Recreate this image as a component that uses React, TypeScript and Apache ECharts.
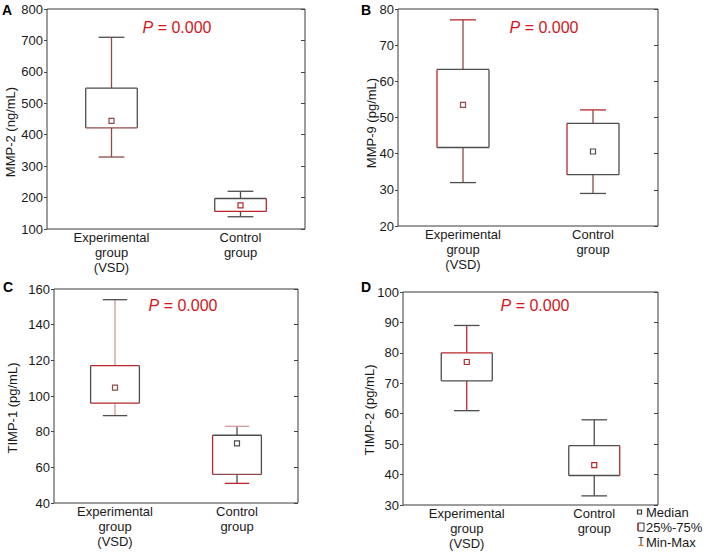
import React, { useEffect, useRef } from "react";
import * as echarts from "echarts";

// Group labels shared by all four panels
const CATEGORIES = ["Experimental\ngroup\n(VSD)", "Control\ngroup"];

// Box statistics per group: [min, q25, median, q75, max]
const MMP2_EXP = [329, 422, 444, 548, 710];
const MMP2_CTRL = [139, 156, 175, 197, 220];
const MMP9_EXP = [32, 41.7, 53.5, 63.3, 77];
const MMP9_CTRL = [29, 34.2, 40.6, 48.4, 52.1];
const TIMP1_EXP = [89, 96, 104.7, 117, 154];
const TIMP1_CTRL = [51, 56, 73.4, 78, 83];
const TIMP2_EXP = [61, 70.8, 77, 80, 89];
const TIMP2_CTRL = [33, 39.7, 43.1, 49.5, 58];

// Value axis ranges: [min, max, interval]
const MMP2_RANGE = [100, 800, 100];
const MMP9_RANGE = [20, 80, 10];
const TIMP1_RANGE = [40, 160, 20];
const TIMP2_RANGE = [30, 100, 10];

const PANEL_LETTERS = ["A", "B", "C", "D"];
const AXIS_NAMES = ["MMP-2 (ng/mL)", "MMP-9 (pg/mL)", "TIMP-1 (pg/mL)", "TIMP-2 (pg/mL)"];
const P_LABEL = "0.000";
const LEGEND_ITEMS = ["Median", "25%-75%", "Min-Max"];

const FONT = "'Liberation Sans', Arial, Helvetica, sans-serif";
const TEXT = "#1a1a1a";
const RED = "#d2161c";

// Stroke colours for the parts of each box
const G = "#4d4d4d";
const R = "#b8262b";
const M = "#8f4a4a";
const P = "#d49a9a";
type EdgeStyle = {
  capTop: string; whiskUp: string; boxTop: string; boxRight: string;
  boxBottom: string; boxLeft: string; whiskDown: string; capBottom: string; median: string;
};
const edge = (capTop: string, whiskUp: string, boxTop: string, boxRight: string, boxBottom: string,
  boxLeft: string, whiskDown: string, capBottom: string, median: string): EdgeStyle =>
  ({ capTop, whiskUp, boxTop, boxRight, boxBottom, boxLeft, whiskDown, capBottom, median });

const EDGE_STYLES: EdgeStyle[][] = [
  [edge(G, M, G, G, M, G, M, M, M), edge(G, G, G, R, R, G, G, G, R)],
  [edge(R, M, G, G, G, R, M, G, M), edge(R, M, G, G, G, R, M, G, G)],
  [edge(G, P, R, G, R, G, P, G, M), edge(P, G, G, G, M, R, G, R, G)],
  [edge(G, R, R, G, G, G, R, G, R), edge(G, G, G, R, G, G, G, G, R)],
];

// Plot areas of the four panels
const GRIDS = [
  { left: 47, top: 9, width: 258, height: 220 },
  { left: 398, top: 9, width: 260, height: 217 },
  { left: 54, top: 289, width: 244, height: 214 },
  { left: 403, top: 292, width: 255, height: 213 },
];

const PANELS = [
  { exp: MMP2_EXP, ctrl: MMP2_CTRL, range: MMP2_RANGE },
  { exp: MMP9_EXP, ctrl: MMP9_CTRL, range: MMP9_RANGE },
  { exp: TIMP1_EXP, ctrl: TIMP1_CTRL, range: TIMP1_RANGE },
  { exp: TIMP2_EXP, ctrl: TIMP2_CTRL, range: TIMP2_RANGE },
];

// Positions of panel letters, P-value labels and rotated axis names
const LETTER_POS = [[2, 10], [361, 10], [3, 287], [361, 287]];
const P_POS = [[177, 27], [544, 27], [183, 305], [535, 305]];
const NAME_POS = [[10, 132], [371, 123], [12, 408], [369, 410]];

function makeRenderItem(panel: number) {
  return (params: any, api: any) => {
    const cat = api.value(0);
    const v = [1, 2, 3, 4, 5].map((i) => api.value(i));
    const ys = v.map((val) => api.coord([cat, val])[1]);
    const xc = api.coord([cat, v[0]])[0];
    const band = api.size([1, 0])[0];
    const bw = band * 0.4;
    const cw = bw * 0.5;
    const [yMin, yQ1, yMed, yQ3, yMax] = ys;
    const s = EDGE_STYLES[panel][params.dataIndex];
    const lw = 1.3;
    const ln = (x1: number, y1: number, x2: number, y2: number, stroke: string) => ({
      type: "line",
      shape: { x1, y1, x2, y2 },
      style: { stroke, lineWidth: lw },
    });
    const xl = xc - bw / 2;
    const xr = xc + bw / 2;
    return {
      type: "group",
      children: [
        ln(xc, yQ3, xc, yMax, s.whiskUp),
        ln(xc - cw / 2, yMax, xc + cw / 2, yMax, s.capTop),
        ln(xc, yQ1, xc, yMin, s.whiskDown),
        ln(xc - cw / 2, yMin, xc + cw / 2, yMin, s.capBottom),
        {
          type: "rect",
          shape: { x: xl, y: yQ3, width: bw, height: yQ1 - yQ3 },
          style: { fill: "#ffffff", stroke: "none" },
        },
        ln(xl, yQ3, xr, yQ3, s.boxTop),
        ln(xr, yQ3, xr, yQ1, s.boxRight),
        ln(xl, yQ1, xr, yQ1, s.boxBottom),
        ln(xl, yQ3, xl, yQ1, s.boxLeft),
        {
          type: "rect",
          shape: { x: xc - 2.5, y: yMed - 2.5, width: 5, height: 5 },
          style: { fill: "#ffffff", stroke: s.median, lineWidth: 1.2 },
        },
      ],
    };
  };
}

export default function App() {
  const ref = useRef<HTMLDivElement>(null);

  useEffect(() => {
    document.body.style.margin = "0";
    if (!ref.current) return;
    const chart = echarts.init(ref.current, undefined, { renderer: "svg" });

    const xAxis = GRIDS.map((_, i) => ({
      type: "category",
      gridIndex: i,
      data: CATEGORIES,
      boundaryGap: true,
      axisLine: { show: false },
      axisTick: { show: false },
      axisLabel: {
        color: TEXT,
        fontFamily: FONT,
        fontSize: 13,
        lineHeight: 15,
        margin: 1,
        interval: 0,
      },
      splitLine: { show: false },
    }));

    const yAxis: any[] = [];
    PANELS.forEach((p, i) => {
      const [min, max, interval] = p.range;
      yAxis.push({
        type: "value",
        gridIndex: i,
        position: "left",
        min,
        max,
        interval,
        axisLine: { show: false },
        axisTick: { show: true, length: 3, lineStyle: { color: "#444" } },
        axisLabel: { color: TEXT, fontFamily: FONT, fontSize: 13, margin: 4 },
        splitLine: { show: false },
      });
      yAxis.push({
        type: "value",
        gridIndex: i,
        position: "right",
        min,
        max,
        interval,
        axisLine: { show: false },
        axisTick: { show: true, inside: true, length: 4, lineStyle: { color: "#444" } },
        axisLabel: { show: false },
        splitLine: { show: false },
      });
    });

    const series = PANELS.map((p, i) => ({
      type: "custom",
      xAxisIndex: i,
      yAxisIndex: i * 2,
      clip: false,
      renderItem: makeRenderItem(i),
      encode: { x: 0, y: [1, 2, 3, 4, 5] },
      data: [
        [0, ...p.exp],
        [1, ...p.ctrl],
      ],
    }));

    const graphic: any[] = [];
    PANEL_LETTERS.forEach((letter, i) => {
      graphic.push({
        type: "text",
        x: LETTER_POS[i][0],
        y: LETTER_POS[i][1],
        style: {
          text: letter,
          fontFamily: FONT,
          fontSize: 14,
          fontWeight: "bold",
          fill: "#000",
          align: "left",
          verticalAlign: "middle",
        },
      });
      graphic.push({
        type: "text",
        x: P_POS[i][0],
        y: P_POS[i][1],
        style: {
          text: "{i|P} = " + P_LABEL,
          fontFamily: FONT,
          fontSize: 16,
          fill: RED,
          align: "center",
          verticalAlign: "middle",
          rich: {
            i: { fontStyle: "italic", fontFamily: FONT, fontSize: 16, fill: RED },
          },
        },
      });
      graphic.push({
        type: "text",
        x: NAME_POS[i][0],
        y: NAME_POS[i][1],
        rotation: Math.PI / 2,
        style: {
          text: AXIS_NAMES[i],
          fontFamily: FONT,
          fontSize: 13,
          fill: TEXT,
          align: "center",
          verticalAlign: "middle",
        },
      });
    });

    // Legend beneath panel D
    const legendX = 646;
    const legendY = [512, 527, 542];
    LEGEND_ITEMS.forEach((label, i) => {
      graphic.push({
        type: "text",
        x: legendX,
        y: legendY[i],
        style: {
          text: label,
          fontFamily: FONT,
          fontSize: 13,
          fill: TEXT,
          align: "left",
          verticalAlign: "middle",
        },
      });
    });
    graphic.push({
      type: "rect",
      shape: { x: 637.5, y: 510, width: 4, height: 4 },
      style: { fill: "#fff", stroke: "#333", lineWidth: 1.2 },
    });
    graphic.push({
      type: "rect",
      shape: { x: 638, y: 523, width: 6, height: 8 },
      style: { fill: "#fff", stroke: "#333", lineWidth: 1 },
    });
    graphic.push({
      type: "line",
      shape: { x1: 638, y1: 523, x2: 638, y2: 531 },
      style: { stroke: R, lineWidth: 1.2 },
    });
    graphic.push({
      type: "line",
      shape: { x1: 638.5, y1: 537.5, x2: 643.5, y2: 537.5 },
      style: { stroke: "#333", lineWidth: 1 },
    });
    graphic.push({
      type: "line",
      shape: { x1: 641, y1: 537.5, x2: 641, y2: 545.5 },
      style: { stroke: "#333", lineWidth: 1 },
    });
    graphic.push({
      type: "line",
      shape: { x1: 638.5, y1: 545.5, x2: 643.5, y2: 545.5 },
      style: { stroke: "#d77a2a", lineWidth: 1.2 },
    });

    chart.setOption({
      animation: false,
      backgroundColor: "#ffffff",
      grid: GRIDS.map((g) => ({
        ...g,
        show: true,
        borderColor: "#3a3a3a",
        borderWidth: 1,
        backgroundColor: "transparent",
        containLabel: false,
      })),
      xAxis,
      yAxis,
      series,
      graphic,
    });

    return () => chart.dispose();
  }, []);

  return <div ref={ref} style={{ width: 708, height: 558 }} />;
}
